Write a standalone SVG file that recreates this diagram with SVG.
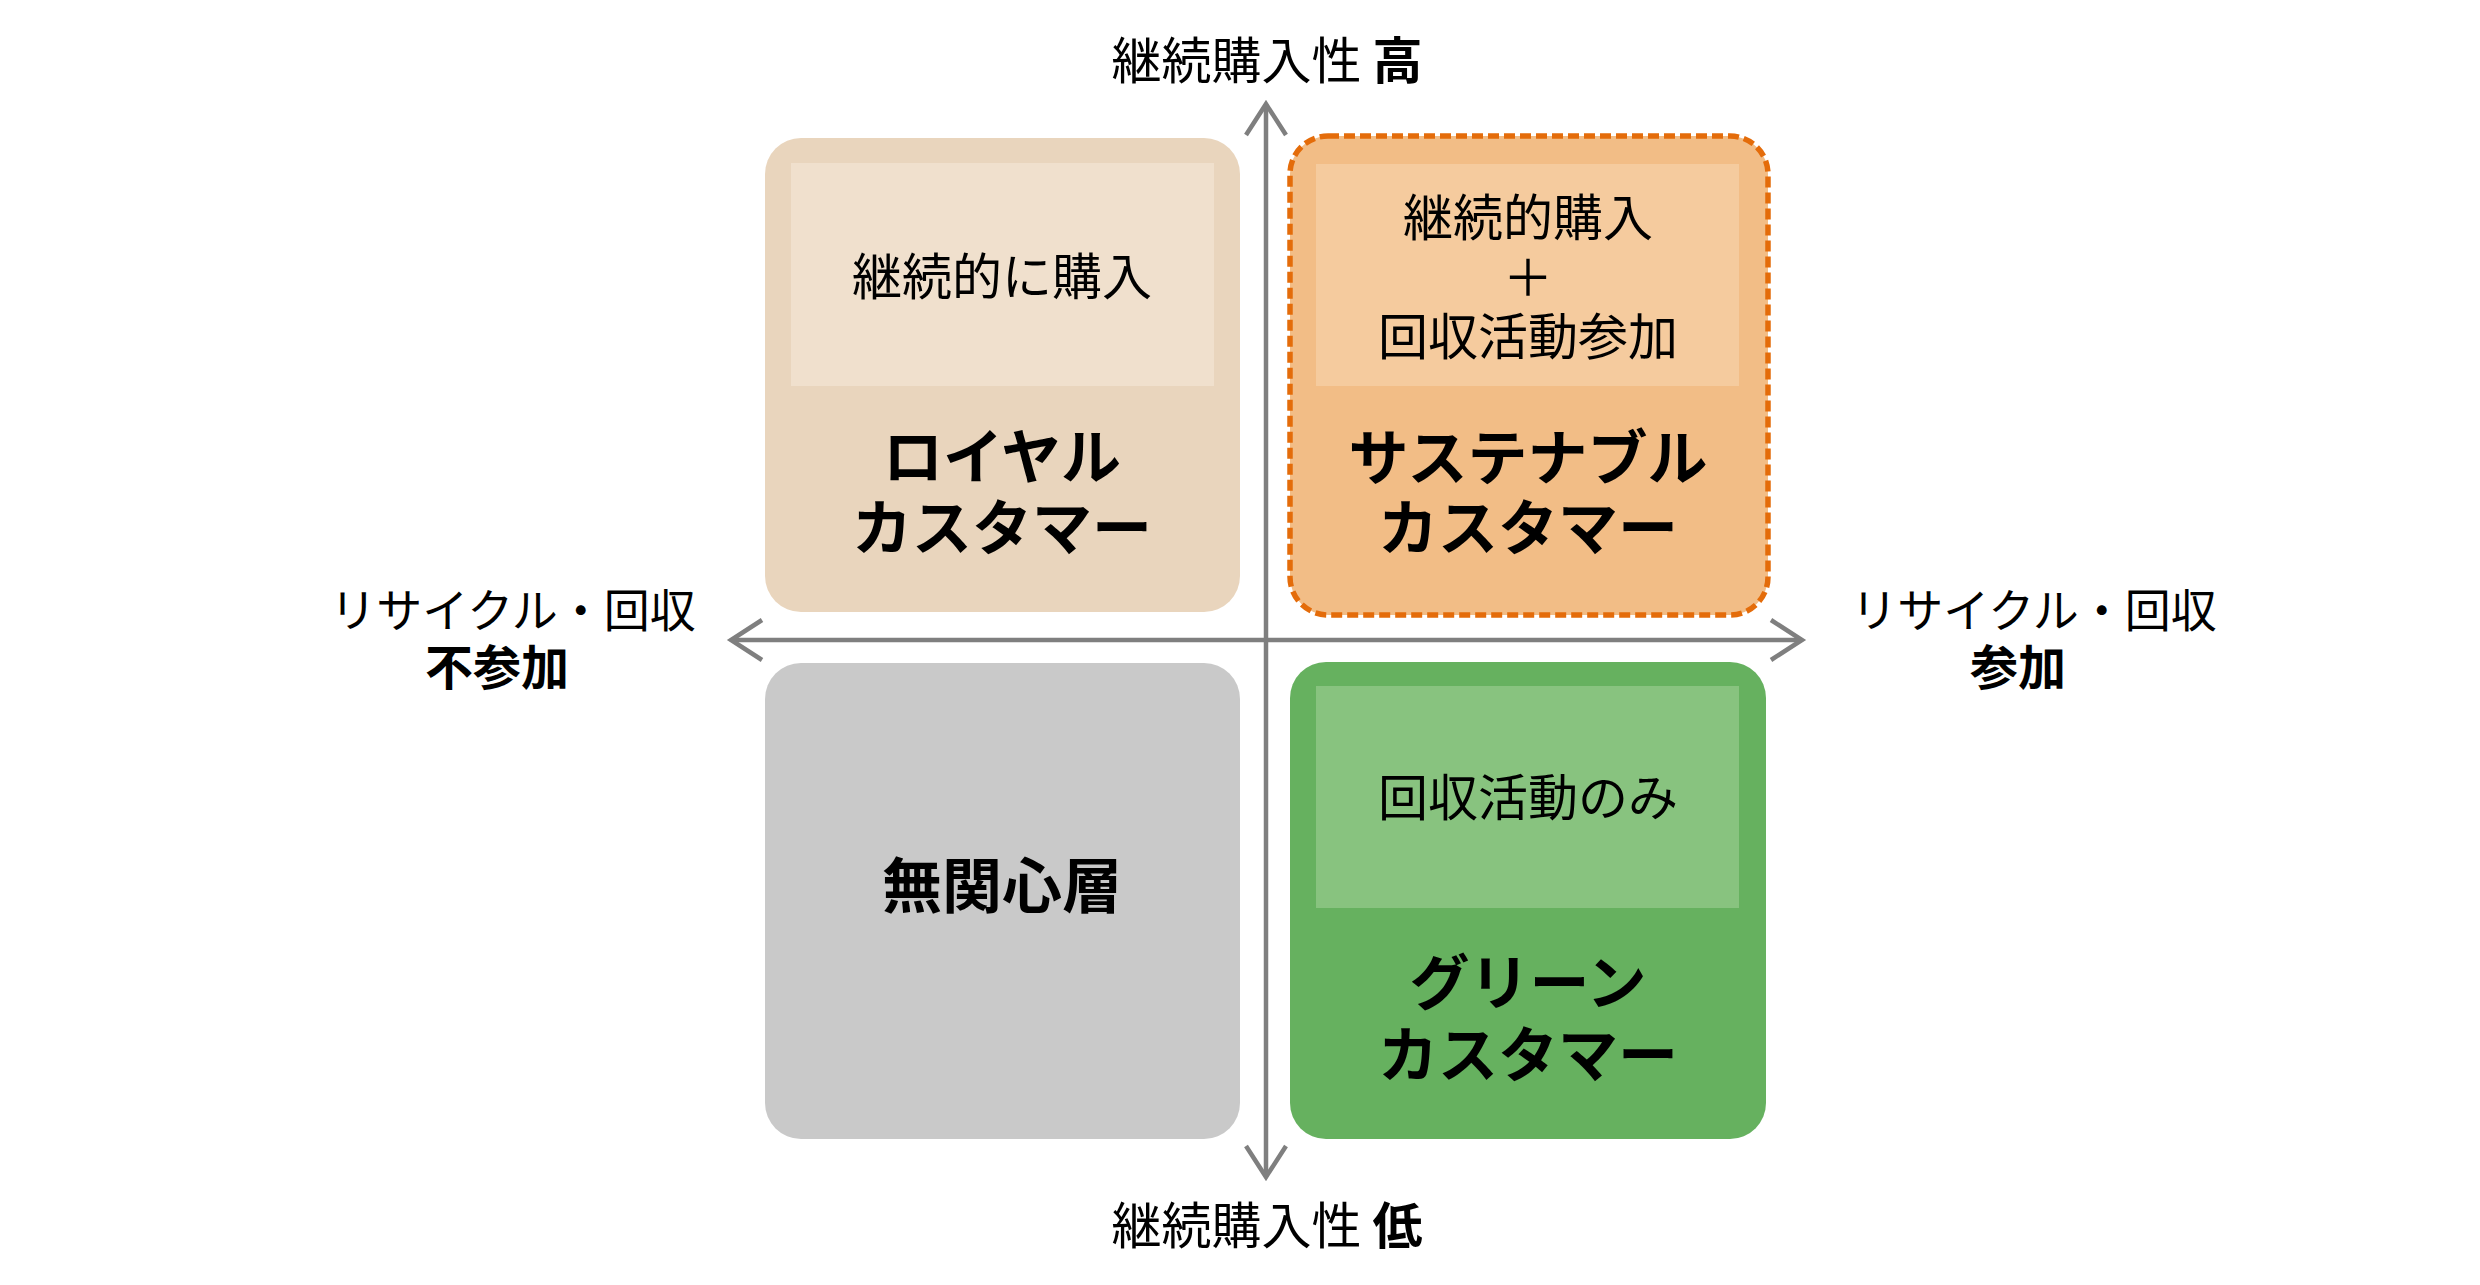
<svg xmlns="http://www.w3.org/2000/svg" width="2480" height="1285" viewBox="0 0 2480 1285">
  <style>
    text { font-family: "Noto Sans CJK JP", "Noto Sans", sans-serif; fill: #000; text-anchor: middle; }
    .sub { font-size: 50px; font-weight: 400; }
    .title { font-size: 60px; font-weight: 700; }
    .axislbl { font-size: 46px; font-weight: 400; }
    .axisbold { font-size: 48px; font-weight: 700; }
    .axis { stroke: #7F7F7F; stroke-width: 4.5; fill: none; }
  </style>
  <defs>
    <marker id="chev" markerUnits="userSpaceOnUse" markerWidth="44" markerHeight="50" refX="34" refY="22" orient="auto-start-reverse">
      <path d="M3,2 L34,22 L3,42" fill="none" stroke="#7F7F7F" stroke-width="4.5" stroke-linejoin="miter"/>
    </marker>
  </defs>
  <rect width="2480" height="1285" fill="#FFFFFF"/>

  <g id="connectors">
    <line class="axis" x1="1266" y1="1177" x2="1266" y2="104" marker-start="url(#chev)" marker-end="url(#chev)"/>
    <line class="axis" x1="731" y1="640" x2="1802" y2="640" marker-start="url(#chev)" marker-end="url(#chev)"/>
  </g>

  <g id="royal">
    <rect x="765" y="138" width="475" height="474" rx="36" fill="#E9D5BD"/>
    <rect x="791" y="163" width="423" height="223" fill="#F0E0CD"/>
    <text class="sub" x="1002" y="295">継続的に購入</text>
    <text class="title"><tspan x="1002" y="479">ロイヤル</tspan><tspan x="1002" y="550">カスタマー</tspan></text>
  </g>

  <g id="sustainable">
    <rect x="1290" y="136" width="478" height="479" rx="38" fill="#F2BD86" stroke="#E46C0A" stroke-width="5.5" stroke-dasharray="11 5"/>
    <rect x="1316" y="164" width="423" height="222" fill="#F5CB9E"/>
    <text class="sub"><tspan x="1528" y="236">継続的購入</tspan><tspan x="1528" y="296">＋</tspan><tspan x="1528" y="355">回収活動参加</tspan></text>
    <text class="title"><tspan x="1528" y="480">サステナブル</tspan><tspan x="1528" y="550">カスタマー</tspan></text>
  </g>

  <g id="indifferent">
    <rect x="765" y="663" width="475" height="476" rx="36" fill="#C9C9C9"/>
    <text class="title" x="1002" y="908">無関心層</text>
  </g>

  <g id="green">
    <rect x="1290" y="662" width="476" height="477" rx="36" fill="#66B15F"/>
    <rect x="1316" y="686" width="423" height="222" fill="#88C37F"/>
    <text class="sub" x="1528" y="816">回収活動のみ</text>
    <text class="title"><tspan x="1528" y="1005">グリーン</tspan><tspan x="1528" y="1077">カスタマー</tspan></text>
  </g>

  <g id="label-top">
    <text class="sub" x="1267" y="79">継続購入性 <tspan font-weight="700">高</tspan></text>
  </g>
  <g id="label-bottom">
    <text class="sub" x="1267" y="1244">継続購入性 <tspan font-weight="700">低</tspan></text>
  </g>
  <g id="label-left">
    <text><tspan class="axislbl" x="513" y="627">リサイクル・回収</tspan><tspan class="axisbold" x="497" y="685">不参加</tspan></text>
  </g>
  <g id="label-right">
    <text><tspan class="axislbl" x="2034" y="627">リサイクル・回収</tspan><tspan class="axisbold" x="2018" y="685">参加</tspan></text>
  </g>
</svg>
